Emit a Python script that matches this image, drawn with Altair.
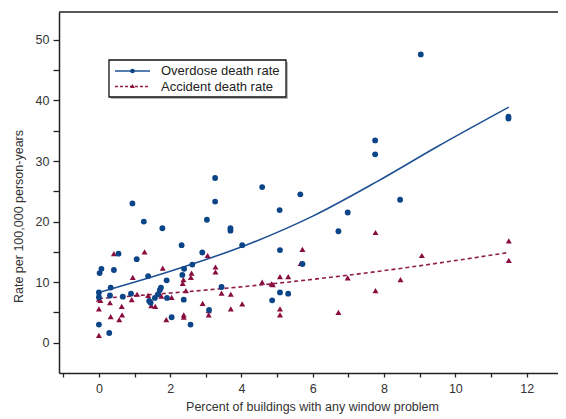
import altair as alt
import pandas as pd

# ---- data ----
overdose_x = [0.00, 0.29, 0.00, 0.00, 0.02, 0.07, 0.33, 0.31, 0.42, 0.55, 0.67, 0.90, 0.94, 1.06,
              1.26, 1.38, 1.41, 1.45, 1.57, 1.66, 1.74, 1.71, 1.78, 1.90, 1.91, 2.04, 2.32, 2.34,
              2.39, 2.38, 2.57, 2.62, 2.90, 3.03, 3.09, 3.26, 3.26, 3.44, 3.69, 3.69, 4.02, 4.58,
              4.86, 5.07, 5.08, 5.08, 5.31, 5.65, 5.71, 6.72, 6.98, 7.75, 7.75, 8.45, 9.03, 11.49, 11.49]
overdose_y = [3.0, 1.6, 7.5, 8.3, 11.5, 12.2, 9.1, 7.8, 12.0, 14.7, 7.6, 8.1, 23.0, 13.8,
              20.0, 11.0, 6.9, 6.6, 7.4, 8.0, 9.1, 8.7, 18.9, 10.3, 7.4, 4.2, 16.1, 11.2,
              12.2, 7.1, 3.0, 12.9, 14.9, 20.3, 5.4, 27.2, 23.3, 9.2, 18.9, 18.5, 16.1, 25.7,
              7.0, 21.9, 15.3, 8.3, 8.1, 24.5, 13.0, 18.4, 21.5, 33.4, 31.1, 23.6, 47.6, 37.0, 37.3]

accident_x = [0.00, 0.00, 0.00, 0.04, 0.31, 0.33, 0.42, 0.57, 0.65, 0.64, 0.92, 0.95, 1.07, 1.28,
              1.38, 1.47, 1.58, 1.75, 1.79, 1.89, 2.04, 2.37, 2.35, 2.38, 2.38, 2.44, 2.60, 2.58,
              2.91, 3.05, 3.08, 3.08, 3.27, 3.27, 3.44, 3.70, 3.70, 4.02, 4.58, 4.84, 4.88, 5.08,
              5.31, 5.08, 5.08, 5.66, 5.71, 6.72, 6.98, 7.76, 7.76, 8.46, 9.06, 11.50, 11.50]
accident_y = [1.2, 5.6, 7.2, 7.0, 6.6, 4.3, 14.7, 3.8, 4.6, 6.0, 7.1, 10.8, 8.0, 15.0,
              7.8, 6.1, 6.0, 7.7, 12.3, 3.8, 7.5, 10.4, 9.8, 4.6, 4.2, 8.6, 11.5, 10.8,
              6.5, 14.4, 5.3, 4.6, 12.5, 11.7, 8.2, 8.0, 5.6, 6.4, 10.0, 9.7, 9.6, 10.9,
              10.9, 5.6, 4.6, 13.1, 15.4, 5.0, 10.7, 18.2, 8.6, 10.4, 14.4, 16.8, 13.6]

overdose_fit_x = [0.0, 2.0, 4.3, 6.0, 7.8, 9.5, 11.5]
overdose_fit_y = [8.3, 11.8, 16.5, 20.9, 26.6, 32.4, 38.9]
accident_fit_x = [0.0, 2.0, 4.3, 8.0, 11.5]
accident_fit_y = [7.3, 8.2, 9.4, 11.9, 14.9]

legend_labels = ["Overdose death rate", "Accident death rate"]
x_title = "Percent of buildings with any window problem"
y_title = "Rate per 100,000 person-years"
x_ticks = list(range(-1, 13))
y_ticks = list(range(0, 55, 5))

BLUE_PT = "#0b4588"
BLUE_LN = "#1f5194"
RED_PT = "#8a0d3f"
RED_LN = "#8e1d48"
FONT = "Liberation Sans"
W, H = 499, 361

od = pd.DataFrame({"x": overdose_x, "y": overdose_y})
ac = pd.DataFrame({"x": accident_x, "y": accident_y})
odf = pd.DataFrame({"x": overdose_fit_x, "y": overdose_fit_y})
acf = pd.DataFrame({"x": accident_fit_x, "y": accident_fit_y})
one = pd.DataFrame({"k": [0]})

xs = alt.Scale(domain=[-1.12, 12.88], nice=False, zero=False)
ys = alt.Scale(domain=[-5, 54.6], nice=False, zero=False)

xax = alt.Axis(values=x_ticks, labelExpr="datum.value % 2 == 0 ? datum.label : ''",
               title=x_title, grid=False, tickSize=4, labelPadding=5,
               titleX=253, titleY=33, titleBaseline="middle", titleAnchor="middle")
yax = alt.Axis(values=y_ticks, labelExpr="datum.value % 10 == 0 ? datum.label : ''",
               title=y_title, grid=False, tickSize=6, labelPadding=4,
               titleX=-41, titleY=204, titleBaseline="middle", titleAngle=-90)

X = alt.X("x:Q", scale=xs, axis=xax)
Y = alt.Y("y:Q", scale=ys, axis=yax)

pts_od = alt.Chart(od).mark_point(filled=True, shape="circle", size=34, color=BLUE_PT, opacity=1).encode(x=X, y=Y)
pts_ac = alt.Chart(ac).mark_point(filled=True, shape="triangle-up", size=36, color=RED_PT, opacity=1).encode(x=X, y=Y)
ln_od = alt.Chart(odf).mark_line(color=BLUE_LN, strokeWidth=1.6, interpolate="monotone").encode(x=X, y=Y)
ln_ac = alt.Chart(acf).mark_line(color=RED_LN, strokeWidth=1.6, strokeDash=[4, 3], interpolate="monotone").encode(x=X, y=Y)

top_border = alt.Chart(one).mark_rule(color="#222", strokeWidth=1.5).encode(
    x=alt.value(0), x2=alt.value(W), y=alt.value(0))

# legend box
lg_shadow = alt.Chart(one).mark_rect(fill="#bbbbbb").encode(
    x=alt.value(52), x2=alt.value(229), y=alt.value(50), y2=alt.value(87))
lg_box = alt.Chart(one).mark_rect(fill="white", stroke="#111", strokeWidth=1.3).encode(
    x=alt.value(50), x2=alt.value(227), y=alt.value(48), y2=alt.value(85))
lg_l1 = alt.Chart(one).mark_rule(color=BLUE_LN, strokeWidth=1.6).encode(
    x=alt.value(56), x2=alt.value(91), y=alt.value(59))
lg_p1 = alt.Chart(one).mark_point(filled=True, shape="circle", size=22, color=BLUE_PT, opacity=1).encode(
    x=alt.value(73.5), y=alt.value(59))
lg_t1 = alt.Chart(one).mark_text(align="left", baseline="middle", font=FONT, fontSize=13, color="#222").encode(
    x=alt.value(102), y=alt.value(59), text=alt.value(legend_labels[0]))
lg_l2 = alt.Chart(one).mark_rule(color=RED_LN, strokeWidth=1.6, strokeDash=[3, 2]).encode(
    x=alt.value(56), x2=alt.value(91), y=alt.value(74.5))
lg_p2 = alt.Chart(one).mark_point(filled=True, shape="triangle-up", size=22, color=RED_PT, opacity=1).encode(
    x=alt.value(73.5), y=alt.value(74))
lg_t2 = alt.Chart(one).mark_text(align="left", baseline="middle", font=FONT, fontSize=13, color="#222").encode(
    x=alt.value(102), y=alt.value(74.5), text=alt.value(legend_labels[1]))

chart = alt.layer(
    ln_ac, ln_od, pts_ac, pts_od, top_border,
    lg_shadow, lg_box, lg_l1, lg_p1, lg_t1, lg_l2, lg_p2, lg_t2
).properties(
    width=W, height=H,
    autosize=alt.AutoSizeParams(type="none"),
    padding={"left": 51, "top": 4, "right": 0, "bottom": 45},
    background="white",
).configure_view(stroke=None).configure_axis(
    domainColor="#222", domainWidth=1.5, tickColor="#222", tickWidth=1.3,
    labelFont=FONT, labelFontSize=12.5, labelColor="#333",
    titleFont=FONT, titleFontSize=12.5, titleColor="#333", titleFontWeight="normal",
)

chart.save("out.html", embed_options={"renderer": "svg", "actions": False})
